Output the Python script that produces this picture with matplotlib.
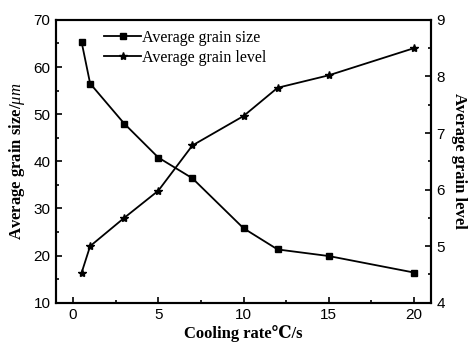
import matplotlib
matplotlib.use('Agg')
import matplotlib.pyplot as plt
from matplotlib.ticker import MultipleLocator

# data
cooling_rate = [0.5, 1, 3, 5, 7, 10, 12, 15, 20]
grain_size = [65.3, 56.5, 48.0, 40.8, 36.4, 25.8, 21.3, 19.9, 16.4]
grain_level = [4.53, 5.0, 5.5, 5.98, 6.78, 7.3, 7.8, 8.02, 8.5]

plt.rcParams['mathtext.fontset'] = 'custom'
plt.rcParams['mathtext.it'] = 'Liberation Serif:italic'
plt.rcParams['mathtext.rm'] = 'Liberation Serif'

serif = ['Liberation Serif', 'DejaVu Serif']
lab = {'family': serif, 'weight': 'bold', 'size': 12}

fig = plt.figure(figsize=(4.71, 3.43), dpi=100)
ax = fig.add_axes([0.119, 0.1175, 0.796, 0.8245])
ax2 = ax.twinx()

l1, = ax.plot(cooling_rate, grain_size, color='black', lw=1.3, marker='s', ms=4,
              label='Average grain size')
l2, = ax2.plot(cooling_rate, grain_level, color='black', lw=1.3, marker='*', ms=6,
               label='Average grain level')

ax.set_xlim(-1, 21)
ax.set_ylim(10, 70)
ax2.set_ylim(4, 9)
ax.xaxis.set_major_locator(MultipleLocator(5))
ax.xaxis.set_minor_locator(MultipleLocator(2.5))
ax.yaxis.set_major_locator(MultipleLocator(10))
ax.yaxis.set_minor_locator(MultipleLocator(5))
ax2.yaxis.set_major_locator(MultipleLocator(1))
ax2.yaxis.set_minor_locator(MultipleLocator(0.5))

for a in (ax, ax2):
    for s in a.spines.values():
        s.set_linewidth(1.5)
    a.tick_params(which='both', direction='in', width=1.2, labelsize=11, pad=4)
    a.tick_params(which='major', length=4)
    a.tick_params(which='minor', length=2.5)
    for t in a.get_xticklabels() + a.get_yticklabels():
        t.set_family('Liberation Sans')
ax.tick_params(axis='x', which='both', top=False)
ax2.tick_params(axis='x', which='both', top=False)

ax.set_xlabel('Cooling rate\u2103/s', fontdict=lab, labelpad=2)
ax.set_ylabel('Average grain size/$\\mu m$', fontdict=lab, labelpad=5)
ax2.set_ylabel('Average grain level', fontdict=lab, rotation=270, labelpad=16)

ax.legend([l1, l2], [l1.get_label(), l2.get_label()], loc='upper left',
          bbox_to_anchor=(0.09, 1.015), frameon=False, handlelength=2.3,
          handletextpad=0.05, labelspacing=0.25,
          prop={'family': serif, 'size': 11.5})

fig.savefig('out.png', dpi=100)
